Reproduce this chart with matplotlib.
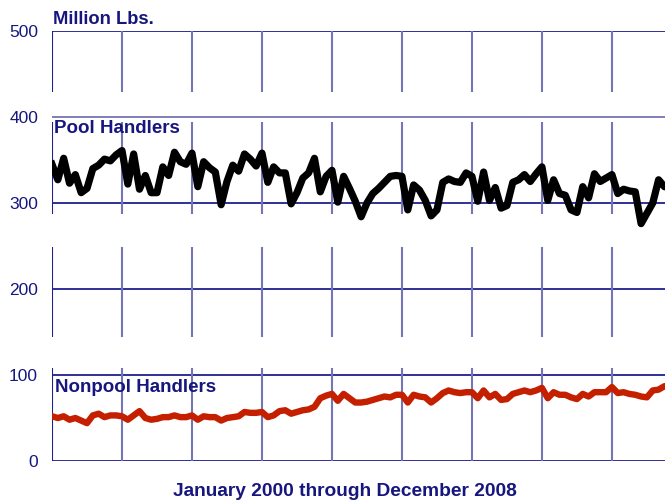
import numpy as np
import matplotlib
matplotlib.use('Agg')
import matplotlib.pyplot as plt

plt.rcParams['font.family'] = ['Liberation Sans', 'DejaVu Sans']

# Monthly milk volumes, Jan 2000 onward (million lbs.)
pool = [345, 327, 352, 323, 333, 312, 317, 340, 344, 351, 349, 356,
        361, 322, 357, 316, 332, 312, 312, 342, 332, 359, 348, 345,
        358, 319, 348, 341, 336, 298, 325, 344, 337, 357, 351, 343,
        358, 324, 342, 335, 335, 299, 312, 329, 335, 352, 313, 331,
        338, 301, 331, 317, 302, 284, 300, 311, 317, 324, 331, 332,
        331, 292, 321, 315, 303, 285, 292, 324, 328, 325, 324, 335,
        331, 302, 336, 303, 318, 294, 297, 324, 327, 333, 325, 334,
        342, 303, 327, 311, 309, 292, 289, 319, 306, 334, 325, 329,
        333, 311, 316, 314, 313, 276, 288, 300, 327, 319, 318, 320]

nonpool = [52, 50, 52, 48, 50, 47, 44, 53, 55, 51, 53, 53,
           52, 48, 53, 58, 50, 48, 49, 51, 51, 53, 51, 51,
           53, 48, 52, 51, 51, 47, 50, 51, 52, 57, 56, 56,
           57, 51, 53, 58, 59, 55, 57, 59, 60, 63, 73, 76,
           78, 70, 78, 73, 68, 68, 69, 71, 73, 75, 74, 77,
           77, 68, 77, 75, 74, 68, 73, 79, 82, 80, 79, 80,
           80, 73, 82, 74, 78, 71, 72, 78, 80, 82, 80, 82,
           85, 73, 80, 77, 77, 74, 72, 78, 75, 80, 80, 80,
           86, 79, 80, 78, 77, 75, 74, 82, 83, 87, 87, 88]

months = np.arange(len(pool))
yticks = [0, 100, 200, 300, 400, 500]

navy = '#16167e'
grid_dark = '#1f1f8f'
grid_light = '#7474b8'

fig = plt.figure(figsize=(6.65, 5.01), dpi=100)
ax = fig.add_axes([52/665, 40/501, 613/665, 430/501])

# horizontal grid
for y in yticks:
    c = grid_light if y == 400 else grid_dark
    ax.axhline(y, color=c, lw=1.3, zorder=1)

# vertical grid at year boundaries, drawn in pieces like the original
segs = [(0, 108), (144, 249), (287, 394), (429, 500)]
for yr in range(0, len(pool) + 1, 12):
    for lo, hi in segs:
        c = grid_dark if yr == 0 else grid_light
        ax.vlines(yr, lo, hi, color=c, lw=1.5, zorder=1)

ax.plot(months, pool, color='black', lw=5.2, solid_joinstyle='round', zorder=3)
ax.plot(months, nonpool, color='#c42000', lw=4.6, solid_joinstyle='round', zorder=3)

ax.set_xlim(0, 105.1)
ax.set_ylim(0, 500)
ax.set_xticks([])
ax.set_yticks(yticks)
ax.tick_params(axis='y', length=0, pad=10, labelsize=12.5, labelcolor=navy)
for s in ax.spines.values():
    s.set_visible(False)

ax.text(0.4, 381, 'Pool Handlers', color=navy, fontsize=13.5,
        fontweight='bold', va='baseline', zorder=4)
ax.text(0.5, 80, 'Nonpool Handlers', color=navy, fontsize=13.5,
        fontweight='bold', va='baseline', zorder=4)

fig.text(53/665, 1 - 24/501, 'Million Lbs.', color=navy, fontsize=13.2,
         fontweight='bold', va='baseline')
fig.text(345/665, 1 - 492/501, 'January 2000 through December 2008',
         color=navy, fontsize=13.8, fontweight='bold', ha='center', va='center')

fig.savefig('out.png', dpi=100)
